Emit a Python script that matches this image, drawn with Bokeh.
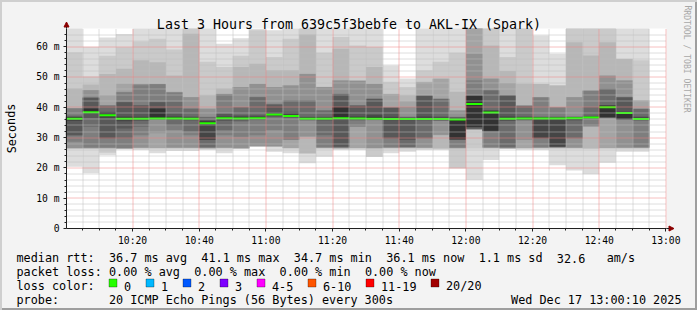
import pandas as pd
from bokeh.plotting import figure
from bokeh.models import (Range1d, FixedTicker, DatetimeTickFormatter, Label, Arrow,
                          NormalHead, ColumnDataSource, BoxAnnotation)
from bokeh.embed import file_html
from bokeh.resources import INLINE

# ---------------- data -----------------
day = "2025-12-17"
range_start = "10:00:10"
range_end = "13:00:10"
slot_start = ["10:00", "10:05", "10:10", "10:15", "10:20", "10:25", "10:30", "10:35",
              "10:40", "10:45", "10:50", "10:55", "11:00", "11:05", "11:10", "11:15",
              "11:20", "11:25", "11:30", "11:35", "11:40", "11:45", "11:50", "11:55",
              "12:00", "12:05", "12:10", "12:15", "12:20", "12:25", "12:30", "12:35",
              "12:40", "12:45", "12:50"]

# median rtt per 5-minute step (ms)
median_rtt = [36.2, 38.4, 37.4, 36.2, 36.2, 36.3, 36.3, 36.2, 34.7, 36.4, 36.3, 36.4,
              37.6, 37.1, 36.2, 36.2, 36.4, 36.3, 36.2, 36.1, 36.1, 36.1, 36.1, 36.0,
              41.1, 38.3, 36.2, 36.3, 36.3, 36.3, 36.4, 36.6, 40.0, 38.1, 36.1]

# the 20 sorted ping rtts (ms) of every step
pings_1000 = [20.4, 26.3, 26.4, 26.5, 26.6, 28.6, 30.7, 30.8, 35.5, 36.0, 36.6, 36.8, 37.0, 37.3, 39.6, 39.7, 39.8, 46.2, 58.2, 70.0]
pings_1005 = [18.2, 26.3, 26.4, 26.5, 26.6, 26.7, 33.6, 36.5, 37.8, 38.2, 39.5, 39.6, 43.1, 43.2, 43.3, 45.6, 45.7, 47.5, 50.2, 60.0]
pings_1010 = [24.2, 25.0, 26.4, 26.5, 26.6, 26.7, 29.7, 29.8, 36.5, 37.2, 38.3, 38.4, 38.5, 40.5, 40.6, 40.7, 44.0, 51.0, 57.0, 63.0]
pings_1015 = [26.1, 26.2, 26.3, 26.4, 26.5, 26.6, 29.7, 33.0, 35.4, 36.0, 36.6, 37.0, 41.7, 41.8, 45.0, 45.1, 47.8, 52.7, 59.8, 64.2]
pings_1020 = [25.9, 26.4, 26.5, 26.6, 26.7, 30.8, 33.6, 35.5, 35.8, 36.0, 36.5, 36.9, 40.6, 40.7, 47.3, 47.7, 47.8, 55.5, 61.7, 68.0]
pings_1025 = [24.8, 26.4, 26.5, 26.6, 31.4, 35.9, 36.0, 36.05, 36.1, 36.2, 39.5, 39.6, 41.7, 41.8, 47.6, 47.7, 47.8, 54.9, 62.6, 67.5]
pings_1030 = [25.6, 26.4, 26.5, 26.6, 26.7, 32.5, 34.0, 35.8, 35.9, 36.1, 36.6, 37.0, 38.0, 41.8, 44.9, 45.0, 45.1, 50.5, 59.1, 67.0]
pings_1035 = [25.6, 26.4, 26.5, 26.6, 26.7, 30.8, 32.0, 35.6, 35.8, 36.0, 36.4, 36.6, 37.0, 39.5, 39.6, 43.3, 43.4, 64.3, 68.0, 70.0]
pings_1040 = [25.9, 26.3, 26.4, 26.5, 26.6, 26.7, 26.8, 29.2, 29.3, 34.6, 35.2, 35.5, 35.8, 36.8, 36.9, 39.5, 39.6, 44.0, 55.0, 67.0]
pings_1045 = [24.8, 26.4, 26.5, 26.6, 26.7, 30.8, 32.5, 35.5, 35.9, 36.3, 36.7, 37.0, 37.9, 38.0, 44.3, 44.4, 44.5, 46.2, 53.3, 61.0]
pings_1050 = [26.2, 26.3, 26.4, 26.5, 26.6, 30.3, 35.3, 35.6, 35.9, 36.2, 36.6, 37.0, 37.4, 40.0, 40.1, 46.6, 46.7, 53.3, 57.0, 62.8]
pings_1055 = [26.9, 27.0, 27.1, 27.2, 27.3, 30.8, 35.7, 35.9, 36.1, 36.3, 36.7, 37.0, 37.4, 43.3, 43.4, 47.7, 47.8, 54.4, 65.4, 65.8]
pings_1100 = [25.3, 26.9, 27.0, 27.1, 27.2, 32.5, 36.6, 36.9, 37.2, 37.5, 38.0, 38.3, 40.7, 41.1, 41.2, 46.6, 46.7, 52.2, 56.6, 65.4]
pings_1105 = [24.8, 26.4, 26.5, 26.6, 29.2, 29.3, 36.3, 36.6, 36.8, 37.0, 37.4, 38.4, 38.5, 42.2, 42.3, 47.2, 47.3, 52.2, 62.6, 69.0]
pings_1110 = [21.5, 24.7, 24.8, 30.3, 30.4, 35.6, 35.7, 35.8, 35.9, 36.1, 36.4, 36.7, 36.9, 42.2, 42.3, 51.0, 51.1, 64.0, 68.0, 70.0]
pings_1115 = [23.7, 26.4, 26.5, 26.6, 26.7, 26.8, 30.8, 35.6, 35.8, 36.0, 36.3, 36.6, 36.9, 38.9, 39.0, 46.6, 46.7, 46.8, 58.0, 68.0]
pings_1120 = [25.9, 26.3, 26.4, 26.5, 26.6, 26.7, 26.8, 27.0, 35.9, 36.2, 40.0, 40.1, 44.3, 44.4, 44.5, 48.8, 48.9, 59.3, 63.2, 68.0]
pings_1125 = [25.9, 26.4, 26.5, 26.6, 33.6, 33.7, 35.6, 35.8, 36.0, 36.2, 36.6, 37.0, 40.5, 40.6, 40.7, 48.7, 48.8, 48.9, 60.4, 68.0]
pings_1130 = [23.6, 23.7, 26.4, 26.5, 26.6, 35.7, 35.8, 35.9, 36.0, 36.1, 36.8, 37.4, 42.7, 42.8, 42.9, 47.7, 47.8, 53.3, 59.9, 68.0]
pings_1135 = [24.8, 26.4, 26.5, 26.6, 26.7, 26.8, 29.7, 29.8, 35.7, 35.9, 36.5, 36.9, 39.8, 39.9, 40.0, 40.1, 44.4, 44.5, 48.4, 53.8]
pings_1140 = [25.3, 26.4, 26.5, 26.6, 26.7, 26.8, 26.9, 29.2, 35.7, 35.9, 36.2, 36.4, 36.6, 36.8, 37.0, 40.1, 42.0, 44.0, 46.7, 49.5]
pings_1145 = [25.9, 26.4, 26.5, 26.6, 26.7, 29.7, 29.8, 35.6, 35.8, 35.9, 36.5, 37.0, 43.7, 43.8, 43.9, 44.0, 48.3, 48.4, 52.2, 66.5]
pings_1150 = [25.9, 26.3, 26.4, 30.8, 30.9, 35.5, 35.6, 35.7, 35.8, 35.9, 36.3, 36.6, 37.0, 42.7, 42.8, 42.9, 49.4, 49.5, 55.0, 67.5]
pings_1155 = [19.8, 19.9, 26.4, 26.5, 26.6, 26.7, 29.2, 29.3, 29.4, 29.5, 36.0, 36.4, 36.6, 36.8, 36.9, 38.9, 39.0, 45.1, 58.0, 68.0]
pings_1200 = [16.0, 26.4, 32.5, 32.6, 32.7, 32.8, 32.9, 33.0, 33.5, 33.6, 43.7, 43.8, 43.9, 44.0, 48.9, 57.7, 67.0, 68.0, 69.0, 70.0]
pings_1205 = [22.6, 26.4, 26.5, 26.6, 26.7, 26.8, 32.0, 32.1, 32.2, 32.3, 38.8, 38.9, 39.0, 45.5, 45.6, 49.4, 49.5, 60.4, 67.0, 70.0]
pings_1210 = [26.2, 26.3, 26.4, 26.5, 26.6, 26.7, 26.8, 35.5, 35.7, 35.9, 36.5, 37.0, 43.8, 43.9, 44.0, 44.1, 48.0, 52.0, 56.6, 67.0]
pings_1215 = [26.0, 26.4, 26.5, 26.6, 29.2, 35.6, 35.7, 35.8, 35.9, 36.0, 36.4, 36.7, 37.0, 40.4, 40.5, 40.6, 40.7, 47.8, 68.0, 70.0]
pings_1220 = [25.9, 26.4, 26.5, 26.6, 26.7, 26.8, 29.7, 29.8, 29.9, 35.9, 36.4, 36.6, 36.8, 37.0, 43.2, 43.3, 43.4, 47.7, 47.8, 63.7]
pings_1225 = [20.9, 26.4, 26.5, 26.6, 26.7, 26.8, 26.9, 27.0, 27.1, 35.9, 36.4, 36.6, 36.8, 37.0, 39.9, 40.0, 40.1, 47.2, 47.3, 57.7]
pings_1230 = [19.1, 26.4, 26.5, 26.6, 26.7, 29.7, 29.8, 35.6, 35.8, 35.9, 36.4, 36.6, 36.8, 36.9, 37.0, 43.3, 43.4, 61.5, 67.0, 70.0]
pings_1235 = [17.9, 26.3, 26.4, 33.6, 33.7, 33.8, 36.2, 36.3, 36.4, 36.5, 36.8, 37.0, 37.2, 40.1, 45.4, 45.5, 45.6, 57.1, 67.0, 70.0]
pings_1240 = [21.7, 26.4, 26.5, 26.6, 36.3, 36.4, 36.5, 36.6, 36.7, 36.8, 40.5, 40.6, 40.7, 46.1, 46.2, 50.4, 50.5, 61.5, 67.0, 70.0]
pings_1245 = [25.3, 26.4, 26.5, 26.6, 26.7, 35.8, 35.9, 36.0, 36.1, 36.2, 38.4, 38.5, 43.2, 43.3, 43.4, 48.8, 48.9, 55.9, 56.0, 67.0]
pings_1250 = [25.3, 26.4, 26.5, 26.6, 26.7, 26.8, 35.6, 35.7, 35.8, 35.9, 36.4, 36.7, 37.0, 39.4, 39.5, 39.6, 42.2, 42.3, 55.5, 67.0]

pings = [pings_1000, pings_1005, pings_1010, pings_1015, pings_1020, pings_1025, pings_1030,
         pings_1035, pings_1040, pings_1045, pings_1050, pings_1055, pings_1100, pings_1105,
         pings_1110, pings_1115, pings_1120, pings_1125, pings_1130, pings_1135, pings_1140,
         pings_1145, pings_1150, pings_1155, pings_1200, pings_1205, pings_1210, pings_1215,
         pings_1220, pings_1225, pings_1230, pings_1235, pings_1240, pings_1245, pings_1250]

x_tick_labels = ["10:20", "10:40", "11:00", "11:20", "11:40", "12:00", "12:20", "12:40", "13:00"]
y_ticks = [0, 10, 20, 30, 40, 50, 60]
y_tick_labels = ["0", "10 m", "20 m", "30 m", "40 m", "50 m", "60 m"]
y_max = 66.0

loss_labels = ["0", "1", "2", "3", "4-5", "6-10", "11-19", "20/20"]
loss_colors = ["#26ff00", "#00b8ff", "#0059ff", "#7e00ff", "#ff00ff", "#ff5500", "#ff0000", "#a10000"]

title_text = "Last 3 Hours from 639c5f3bebfe to AKL-IX (Spark)"
rtt_stats = ["36.7 ms avg", "41.1 ms max", "34.7 ms min", "36.1 ms now", "1.1 ms sd", "32.6", "am/s"]
loss_stats = ["0.00 % avg", "0.00 % max", "0.00 % min", "0.00 % now"]
probe_text = "20 ICMP Echo Pings (56 Bytes) every 300s"
stamp_text = "Wed Dec 17 13:00:10 2025"

# ---------------- layout constants -----------------
W, H = 697, 310
FL, FR, FT, FB = 66, 666, 28, 228     # data area in canvas pixels
EPOCH = pd.Timestamp("1970-01-01")


def ms(hhmm):
    return (pd.Timestamp(f"{day} {hhmm}") - EPOCH) / pd.Timedelta(milliseconds=1)


t0, t1 = ms(range_start), ms(range_end)
XPX = (t1 - t0) / (FR - FL)          # ms of time per pixel
YPX = y_max / (FB - FT)              # ms of rtt per pixel
STEP = 5 * 60 * 1000
lefts = [ms(s) for s in slot_start]
rights = [v + STEP for v in lefts]

FONT = "DejaVu Sans Mono"


def snap_x(t):
    """move a grid line onto a pixel centre so its dots stay crisp"""
    px = FL + (t - t0) / XPX
    return t0 + (int(px) + 0.5 - FL) * XPX


def snap_y(v):
    py = FB - v / YPX
    return (FB - (int(py) + 0.5)) * YPX


# the frame is the whole canvas; the data area sits inside it
p = figure(width=W, height=H, x_axis_type="datetime", output_backend="svg",
           toolbar_location=None, title=None,
           x_range=Range1d(t0 - FL * XPX, t1 + (W - FR) * XPX),
           y_range=Range1d(-(H - FB) * YPX, y_max + FT * YPX),
           min_border_left=0, min_border_right=0, min_border_top=0, min_border_bottom=0)
p.background_fill_alpha = 0
p.border_fill_alpha = 0
p.outline_line_color = None
p.styles = {"background-color": "#f3f3f3",
            "box-shadow": "inset 2px 2px 0 #cfcfcf, inset -2px -2px 0 #9e9e9e"}
p.xgrid.visible = False
p.ygrid.visible = False

p.add_layout(BoxAnnotation(left=t0, right=t1, bottom=0, top=y_max, fill_color="white",
                           fill_alpha=1, line_color=None, level="underlay"))

# smoke: band i spans ping i .. ping (21-i), lighter outside
npings = 20
half = npings // 2
for i in range(half):
    level = int(190 / half * (half - (i + 1))) + 50
    col = "#" + ("%02x" % level) * 3
    src = ColumnDataSource(dict(left=lefts, right=rights,
                                bottom=[c[i] for c in pings],
                                top=[min(c[npings - 1 - i], y_max) for c in pings]))
    p.quad(left="left", right="right", bottom="bottom", top="top", source=src,
           fill_color=col, line_color=None)

# median bar (2 px tall)
msrc = ColumnDataSource(dict(left=lefts, right=rights,
                             bottom=[m - YPX for m in median_rtt],
                             top=[m + YPX for m in median_rtt]))
p.quad(left="left", right="right", bottom="bottom", top="top", source=msrc,
       fill_color=loss_colors[0], line_color=None)

# ticks
xt = [ms(t) for t in x_tick_labels]
xminor = [ms(s) for s in slot_start[1:]] + [ms("12:55")]
xminor = [v for v in xminor if v not in xt]
yminor = [v for v in range(2, 66, 2) if v % 10 != 0]

# grid (dotted, drawn over the smoke like rrdtool)
minor_c, major_c = "#bdbdbd", "#ee8080"
gy_min = [snap_y(v) for v in yminor]
gy_maj = [snap_y(v) for v in y_ticks[1:]]
gx_min = [snap_x(v) for v in xminor]
gx_maj = [snap_x(v) for v in xt]
p.segment(x0=t0, x1=t1, y0=gy_min, y1=gy_min, line_color=minor_c, line_dash="1 1", line_width=1)
p.segment(x0=gx_min, x1=gx_min, y0=0, y1=y_max, line_color=minor_c, line_dash="1 1", line_width=1)
p.segment(x0=t0, x1=t1, y0=gy_maj, y1=gy_maj, line_color=major_c, line_dash="1 1", line_width=1)
p.segment(x0=gx_maj, x1=gx_maj, y0=0, y1=y_max, line_color=major_c, line_dash="1 1", line_width=1)

# axes pinned to the data origin
p.xaxis.ticker = FixedTicker(ticks=xt, minor_ticks=xminor)
p.xaxis.formatter = DatetimeTickFormatter(seconds="%H:%M", minsec="%H:%M", minutes="%H:%M",
                                          hourmin="%H:%M", hours="%H:%M")
p.xaxis.fixed_location = 0
p.xaxis.bounds = (t0, t1)
p.yaxis.ticker = FixedTicker(ticks=y_ticks, minor_ticks=yminor)
p.yaxis.major_label_overrides = dict(zip(y_ticks, y_tick_labels))
p.yaxis.fixed_location = t0
p.yaxis.bounds = (0, y_max)

for ax in (p.xaxis, p.yaxis):
    ax.axis_line_color = "#202020"
    ax.major_tick_line_color = "#202020"
    ax.minor_tick_line_color = "#202020"
    ax.major_tick_in = 0
    ax.minor_tick_in = 0
    ax.major_tick_out = 3
    ax.minor_tick_out = 2
    ax.major_label_text_font = FONT
    ax.major_label_text_font_size = "9.7px"
    ax.major_label_text_color = "black"
p.yaxis.major_label_standoff = 4
p.xaxis.major_label_standoff = 3

# arrows at the axis ends
arrow_c = "#8b0000"
p.add_layout(Arrow(end=NormalHead(size=5, fill_color=arrow_c, line_color=arrow_c),
                   x_start=FR, y_start=H - FB, x_end=FR + 7.5, y_end=H - FB,
                   start_units="screen", end_units="screen", line_color="#202020"))
p.add_layout(Arrow(end=NormalHead(size=5, fill_color=arrow_c, line_color=arrow_c),
                   x_start=FL, y_start=H - FT, x_end=FL, y_end=H - FT + 6.5,
                   start_units="screen", end_units="screen", line_color="#202020"))


def lab(text, x, y, size="11.8px", align="left", baseline="alphabetic", angle=0.0,
        color="black"):
    p.add_layout(Label(x=x, y=H - y, x_units="screen", y_units="screen", text=text,
                       text_font=FONT, text_font_size=size, text_align=align,
                       text_baseline=baseline, angle=angle, text_color=color))


CW = 7.11  # monospace cell width of legend text
X0 = 16

lab(title_text, 348.5, 24, size="13.3px", align="center")
lab("Seconds", 11, 128, align="center", baseline="middle", angle=1.5708)
lab("RRDTOOL / TOBI OETIKER", 687, 5, size="8.1px", align="left", baseline="middle",
    angle=-1.5708, color="#a8a8a8")

lab("median rtt:", X0, 257.7)
for txt, c in zip(rtt_stats, [13, 26, 39, 52, 65, 76, 83]):
    lab(txt, X0 + c * CW, 257.7)
lab("packet loss:", X0, 271.7)
for txt, c in zip(loss_stats, [13, 25, 37, 49]):
    lab(txt, X0 + c * CW, 271.7)
lab("loss color:", X0, 285.7)
lab("probe:", X0, 299.7)
lab(probe_text, X0 + 13 * CW, 299.7)
lab(stamp_text, 681, 299.7, align="right")

# loss colour key: box, then its label
bx = 108.5
for name, colr in zip(loss_labels, loss_colors):
    p.add_layout(BoxAnnotation(left=bx, right=bx + 8, top=H - 278.5, bottom=H - 286.5,
                               left_units="screen", right_units="screen",
                               top_units="screen", bottom_units="screen",
                               fill_color=colr, fill_alpha=1, line_color="black",
                               line_width=1))
    lab(name, bx + 15, 285.7)
    bx += 30 + 7.0 * len(name)

open("out.html", "w").write(file_html(p, INLINE))
